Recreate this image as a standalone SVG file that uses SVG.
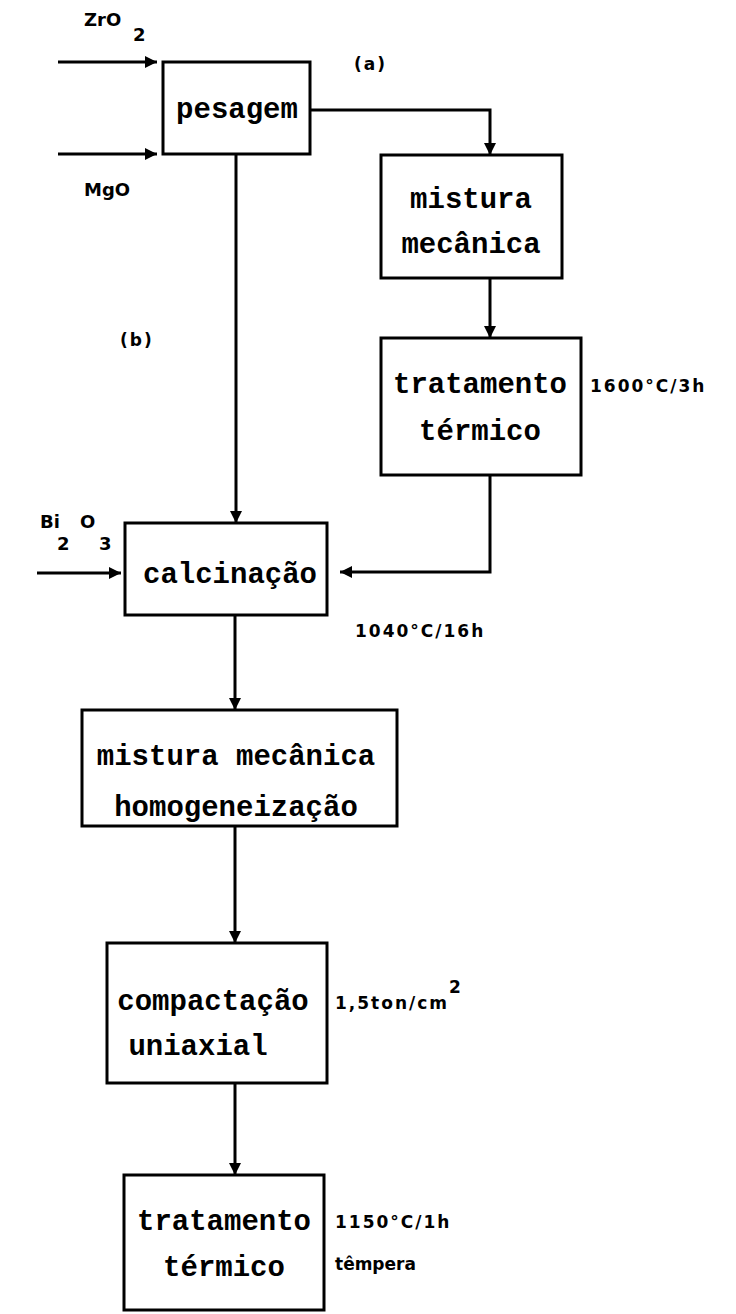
<svg xmlns="http://www.w3.org/2000/svg" width="736" height="1314" viewBox="0 0 736 1314">
<style>
.box{fill:#fff;stroke:#000;stroke-width:3}
.t{font-family:"Liberation Mono","DejaVu Sans Mono",monospace;font-weight:bold;font-size:29px;text-anchor:middle;fill:#000}
.s{font-family:"DejaVu Sans","Liberation Sans",sans-serif;font-weight:bold;font-size:17px;letter-spacing:2px;fill:#000}
.c{font-family:"DejaVu Sans","Liberation Sans",sans-serif;font-weight:bold;font-size:18px;fill:#000}
.ln{fill:none;stroke:#000;stroke-width:3}
</style>
<defs>
<marker id="ah" viewBox="0 0 10 10" refX="10" refY="5" markerWidth="4" markerHeight="4" orient="auto" markerUnits="strokeWidth">
<path d="M0,0 L10,5 L0,10 z" fill="#000"/>
</marker>
</defs>
<rect width="736" height="1314" fill="#fff"/>
<g id="connectors">
<line class="ln" x1="58" y1="62" x2="157" y2="62" marker-end="url(#ah)"/>
<line class="ln" x1="58" y1="154" x2="157" y2="154" marker-end="url(#ah)"/>
<polyline class="ln" points="310,110 490,110 490,155" marker-end="url(#ah)"/>
<line class="ln" x1="490" y1="278" x2="490" y2="338" marker-end="url(#ah)"/>
<polyline class="ln" points="490,475 490,572 340,572" marker-end="url(#ah)"/>
<line class="ln" x1="236" y1="154" x2="236" y2="523" marker-end="url(#ah)"/>
<line class="ln" x1="37" y1="573" x2="121" y2="573" marker-end="url(#ah)"/>
<line class="ln" x1="235" y1="615" x2="235" y2="710" marker-end="url(#ah)"/>
<line class="ln" x1="235" y1="826" x2="235" y2="943" marker-end="url(#ah)"/>
<line class="ln" x1="235" y1="1083" x2="235" y2="1175" marker-end="url(#ah)"/>
</g>
<g id="labels">
<text class="c" x="84" y="26">ZrO</text>
<text class="c" x="133" y="41">2</text>
<text class="c" x="84" y="196">MgO</text>
<text class="s" x="354" y="70">(a)</text>
<text class="s" x="120" y="346">(b)</text>
<text class="c" x="40" y="528">Bi</text>
<text class="c" x="57" y="550">2</text>
<text class="c" x="80" y="528">O</text>
<text class="c" x="99" y="550">3</text>
<text class="s" x="590" y="392">1600°C/3h</text>
<text class="s" x="355" y="637">1040°C/16h</text>
<text class="s" x="335" y="1009">1,5ton/cm<tspan dy="-16">2</tspan></text>
<text class="s" x="335" y="1228">1150°C/1h</text>
<text class="s" x="335" y="1270" style="letter-spacing:0px">têmpera</text>
</g>
<g id="pesagem">
<rect class="box" x="163" y="62" width="147" height="92"/>
<text class="t" x="237" y="118">pesagem</text>
</g>
<g id="mistura1">
<rect class="box" x="381" y="155" width="181" height="123"/>
<text class="t" x="471" y="208">mistura</text>
<text class="t" x="471" y="253">mecânica</text>
</g>
<g id="tratamento1">
<rect class="box" x="381" y="338" width="200" height="137"/>
<text class="t" x="480" y="393">tratamento</text>
<text class="t" x="480" y="440">térmico</text>
</g>
<g id="calcinacao">
<rect class="box" x="125" y="523" width="202" height="92"/>
<text class="t" x="230" y="583">calcinação</text>
</g>
<g id="mistura2">
<rect class="box" x="82" y="710" width="315" height="116"/>
<text class="t" x="236" y="765">mistura mecânica</text>
<text class="t" x="236" y="816">homogeneização</text>
</g>
<g id="compactacao">
<rect class="box" x="107" y="943" width="220" height="140"/>
<text class="t" x="213" y="1010">compactação</text>
<text class="t" x="198" y="1055">uniaxial</text>
</g>
<g id="tratamento2">
<rect class="box" x="124" y="1175" width="200" height="135"/>
<text class="t" x="224" y="1230">tratamento</text>
<text class="t" x="224" y="1276">térmico</text>
</g>
</svg>
